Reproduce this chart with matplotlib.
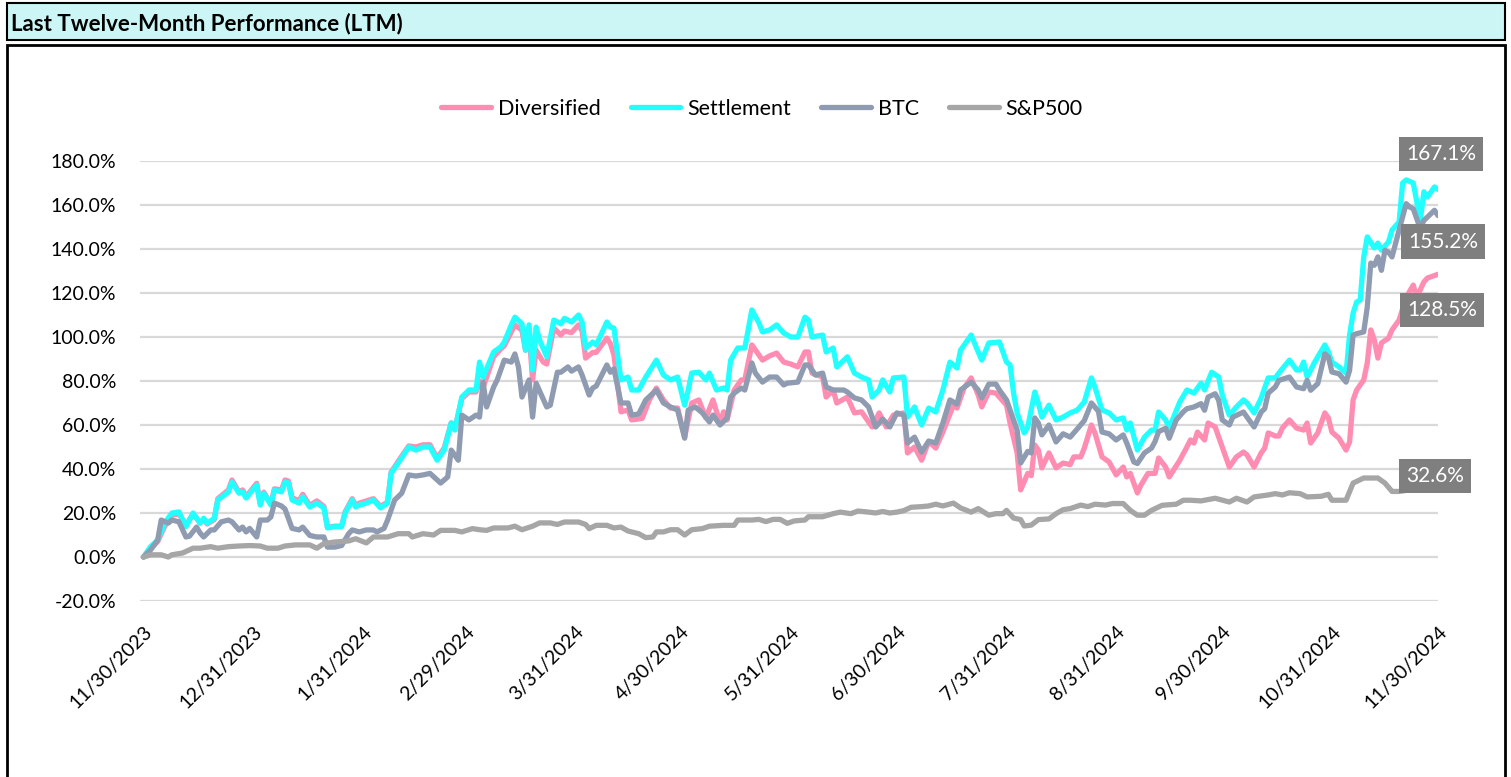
import matplotlib
matplotlib.use("Agg")
import matplotlib.pyplot as plt
import matplotlib.dates as mdates
from matplotlib.patches import Rectangle
import pandas as pd

plt.rcParams['font.family'] = ['Lato', 'DejaVu Sans']

# ---------------- data (day offset from start date, cumulative return %) ----------------
start_date = "2023-11-30"

diversified = [(0,0),(2,4),(4,7),(6,14),(8,19),(10,19.5),(12,14.5),(14,19.5),(16,15.5),(17,17),(18,15),(20,17),
    (21,26.5),(24,30.5),(25,35),(27,29.5),(28,30.5),(29,27.5),(32,33.5),(33,24.5),(34,29.5),(36,24),(37,31),(39,30.5),
    (40,35),(41,34.5),(42,27),(44,25.5),(45,28.5),(47,23.5),(49,25.5),(51,23),(52,13.5),(54,14),(56,14),(57,20.5),
    (59,26.5),(60,23.5),(61,24.5),(63,25.5),(65,26.5),(67,23),(69,25),(70,38.5),(72,43.5),(75,50.5),(77,50),(79,51),
    (81,51),(83,45),(85,49.5),(87,61),(88,58),(90,72),(92,75),(94,75),(95,80),(96,77),(99,91),(101,94.5),(102,96),
    (104,102.3),(105,105.5),(107,103),(108,94),(109,102),(110,80.5),(111,94),(113,88.6),(114,87.7),(116,104),
    (118,100.9),(119,102.7),(121,102),(123,105.5),(124,102.7),(125,90.4),(127,93),(128,93),(131,99.5),(132,97),
    (133,91.8),(135,66),(137,66.8),(138,62.3),(141,63),(143,71.4),(145,76.8),(147,71.4),(149,67.7),(151,67.7),
    (153,54.5),(155,70),(157,71.4),(159,63.2),(161,71.4),(163,60.9),(164,66),(165,62.3),(167,75.9),(169,80.5),
    (170,80.5),(172,96.4),(174,91.8),(175,89.5),(177,91.4),(179,92.7),(181,88.6),(183,87.7),(185,86.4),(187,93.2),
    (188,93.2),(189,83.6),(192,81.8),(193,72.7),(195,75.9),(196,70),(199,72.7),(201,65.5),(203,66),(205,61.4),
    (206,59.1),(208,65.5),(210,59.1),(212,64.5),(215,65.5),(216,47.3),(218,50),(220,44),(222,52.5),(224,49.5),
    (226,56.8),(229,69),(230,67.7),(232,76.8),(234,81.4),(236,73.6),(237,68.2),(239,75),(241,74.5),(244,69),
    (245,60.9),(247,47.3),(248,30.5),(250,38),(251,37),(252,50.9),(253,48.6),(254,40.5),(256,47.3),(258,40.5),
    (260,42.7),(262,42),(263,45.5),(265,45.5),(266,49.5),(268,60),(269,56.4),(271,45.5),(273,43.2),(275,37.3),
    (277,40.9),(278,36.4),(279,38),(281,29.1),(282,32.7),(284,38),(286,38),(287,45),(289,40.9),(290,36.4),(293,44),
    (295,50),(296,53.2),(297,51.8),(298,56.8),(300,53.2),(301,60.9),(303,59.1),(304,54.5),(306,45.5),(307,40.9),
    (309,45.5),(311,47.7),(312,46.4),(314,40.9),(316,47.3),(317,49.5),(318,56.4),(320,55),(321,55),(322,58.6),
    (324,62.3),(326,58.6),(328,57.7),(329,60.9),(330,51.8),(332,56.4),(334,65.5),(335,63.2),(336,56.8),(338,54),
    (340,48.6),(341,52.3),(342,71.4),(343,75.9),(345,80.5),(346,88.2),(347,103.2),(348,98.6),(349,90.4),(350,97.3),
    (352,99.5),(353,103.2),(355,107.7),(357,118),(359,123.6),(360,118),(362,125),(363,126.8),(366,128.5)]

settlement = [(0,0),(2,4.7),(4,7.7),(6,15.4),(8,20),(10,20.5),(12,13.8),(14,20),(16,15.4),(17,17.6),(18,15.4),
    (20,17.6),(21,25.9),(24,29.6),(25,34),(27,29),(28,29.6),(29,26.8),(32,32.7),(33,23.6),(34,29),(36,23.6),(37,30.4),
    (39,29.6),(40,34),(41,33.6),(42,25.9),(44,24.5),(45,27.3),(47,22.7),(49,24.5),(51,22.3),(52,13.2),(54,13.8),
    (56,13.8),(57,20),(59,25.9),(60,22.7),(61,23.6),(63,24.5),(65,25.9),(67,22.3),(69,24.5),(70,38),(72,42.7),
    (75,50),(77,48.6),(79,50),(81,50),(83,44),(85,48.6),(87,60.9),(88,57.7),(90,72.7),(92,75.9),(94,75.9),(95,88.6),
    (96,81.8),(99,93.2),(101,95.5),(102,97.7),(104,105.5),(105,109),(107,106),(108,94),(109,105.5),(110,85),
    (111,104.5),(112,98.6),(114,91),(116,107.7),(118,106),(119,108.5),(121,106.8),(123,110),(124,106.8),(125,95),
    (127,97.7),(128,96.4),(131,106.8),(132,104.5),(133,104),(135,80.5),(137,81.8),(138,75.9),(140,75.9),(142,81.8),
    (145,89.5),(147,82.7),(149,80.5),(151,81.8),(153,69),(154,75.9),(155,83.6),(157,84),(159,80.5),(160,83.6),
    (162,75.9),(164,76.8),(165,75.9),(166,89.5),(168,95),(170,95),(172,112.3),(174,106.4),(175,102.3),(177,103.2),
    (179,105.5),(181,101.8),(183,100),(185,100),(187,109),(188,107.7),(189,100),(192,100.9),(193,93.2),(195,95),
    (196,86.4),(199,91),(201,83.6),(203,81.8),(205,80.5),(206,72.7),(208,75.9),(209,80.5),(211,75),(212,81.4),
    (215,81.8),(216,63.6),(218,68.2),(220,60),(222,67.7),(224,65.9),(226,75.9),(228,88.6),(230,85.9),(231,94),
    (234,100.9),(236,93.2),(237,89.5),(239,97.3),(242,97.7),(244,88.6),(245,87.3),(246,74.5),(247,65.5),(249,56.4),
    (250,59.1),(252,75),(253,70),(254,63.6),(256,69),(258,62.3),(260,63.6),(262,65.5),(264,66.8),(266,70.5),
    (268,81.4),(269,77.3),(271,66.8),(273,65.5),(275,62.3),(277,63.2),(278,57.7),(279,60.9),(281,48.6),(283,54.5),
    (285,57.7),(286,57.7),(287,65.9),(289,62.3),(290,58.6),(293,70.5),(295,75.9),(297,74.5),(299,79),(300,75.9),
    (302,84),(304,81.8),(305,73.6),(307,64.5),(309,68.2),(311,71.4),(312,70),(314,65.5),(316,72.3),(318,81.4),
    (320,81.4),(321,83.6),(324,89.5),(326,85),(327,85),(328,88.6),(329,81.8),(331,88.2),(334,96.4),(335,93.2),
    (336,88.6),(338,86.4),(340,83.6),(341,100.9),(342,110.9),(343,115.9),(344,116.8),(345,136.4),(346,145.5),
    (348,140.5),(349,142.7),(350,139.5),(352,143.2),(353,148.6),(355,152.3),(356,170),(357,171.4),(359,170),
    (361,153),(362,166),(363,163.6),(365,168.2),(366,167.1)]

btc = [(0,0),(2,3.2),(4,7.7),(5,16.8),(7,15.4),(8,16.8),(10,16),(12,9.1),(13,9.5),(15,13.6),(16,10.9),(17,9.1),
    (19,12.3),(20,12.3),(22,16),(24,16.8),(25,16),(27,12.3),(28,13.6),(29,11.4),(30,13),(32,9.1),(33,16.8),(35,16.8),
    (36,18.2),(37,24.5),(39,23.2),(40,21.8),(42,13),(44,12.3),(45,13.6),(47,9.8),(49,9.1),(51,9.1),(52,4.5),(54,4.5),
    (56,5.2),(58,10.6),(59,12.3),(61,11.4),(63,12.3),(65,12.3),(66,11.4),(68,13),(69,16.8),(71,25.9),(73,29),
    (75,37.3),(77,36.8),(79,37.3),(81,38),(84,33.6),(86,36.4),(87,48.6),(89,44),(90,64.5),(92,62.3),(94,64.5),
    (95,63.6),(96,79.5),(97,68.2),(99,77.3),(100,80.5),(102,89.5),(104,88.6),(105,92.3),(106,86.4),(107,72.7),
    (109,80.5),(110,63.6),(111,79),(114,68.2),(115,69),(117,84),(118,84),(120,86.4),(121,84.5),(123,86.4),(124,82.7),
    (126,73.6),(127,76.8),(128,77.7),(131,87.3),(132,84),(133,85.5),(135,70),(137,70),(138,64.5),(140,65),(142,71.4),
    (145,75.9),(147,70),(149,68.2),(151,66.8),(153,54),(154,66.8),(156,68.2),(158,65.5),(160,61.4),(161,64.5),
    (163,60),(165,63.2),(166,72.7),(167,74.5),(169,76.8),(170,75.9),(172,88.2),(173,83.6),(175,79.5),(177,81.8),
    (179,81.8),(181,78.2),(182,79),(185,79.5),(187,87.3),(188,87.3),(190,82.7),(192,83.6),(193,77.3),(195,75.9),
    (198,75.9),(199,75),(201,72.3),(203,71.4),(205,68.2),(207,59.1),(209,62.7),(211,59.1),(213,65.5),(215,64.5),
    (216,51.8),(218,54.5),(220,47.7),(222,52.7),(224,51.8),(226,60.9),(228,71.4),(230,69.5),(231,75.9),(234,79.5),
    (236,75.9),(237,72.3),(239,78.6),(241,78.6),(242,75.9),(244,71.4),(246,62.3),(247,57.7),(248,42.7),(250,48),
    (251,47.3),(252,63.2),(253,60.9),(254,55.5),(256,60),(258,52.3),(260,56),(262,54.5),(264,58.2),(266,62),
    (268,70),(270,66.2),(271,56.8),(273,56),(275,53.2),(277,55.5),(278,51.8),(280,43.2),(281,42.5),(283,47.3),
    (285,49.5),(286,52.5),(287,57),(289,58.5),(290,54),(292,62.3),(294,66),(295,67.4),(297,68.2),(299,69.7),
    (300,66.7),(301,72.7),(303,74.2),(304,71.2),(305,62.3),(307,60),(308,63.6),(311,65.9),(312,63.6),(314,59.1),
    (316,65.9),(317,67.4),(318,74.5),(320,77.3),(321,80.3),(324,81.8),(326,77.3),(328,76.5),(329,80.3),(330,75.8),
    (332,78.8),(334,92.4),(335,90.9),(336,84.1),(338,83.3),(340,79.5),(341,84.8),(342,100.9),(343,101.5),
    (345,102.3),(346,113.6),(347,133.6),(348,132.6),(349,136.4),(350,130.3),(351,139.4),(352,138.6),(353,136.4),
    (355,148.6),(357,160.6),(358,159.1),(359,158.3),(361,149.2),(362,153),(363,154.5),(365,157.6),(366,155.2)]

sp500 = [(0,0),(2,1),(5,1),(7,0),(8,1),(11,1.8),(14,4),(16,4),(19,4.7),(21,4),(24,4.7),(27,5),(30,5.2),(33,5),
    (35,4),(38,4),(40,5),(43,5.5),(47,5.5),(49,4),(51,6.1),(54,6.8),(58,7.3),(60,8.3),(63,6.4),(65,9.1),(69,9.1),
    (72,10.6),(75,10.6),(76,9.1),(79,10.6),(82,10),(84,12.1),(88,12.1),(90,11.4),(93,12.9),(95,12.4),(97,12.1),
    (99,13.2),(103,13.2),(105,14),(107,12.4),(110,14),(112,15.5),(115,15.5),(117,14.8),(119,15.9),(123,15.9),
    (125,14.8),(126,12.9),(128,14.4),(131,14.4),(133,13.2),(135,13.6),(137,11.8),(140,10.6),(142,8.8),(144,9.1),
    (145,11.4),(147,11.4),(149,12.4),(151,12.4),(153,10),(155,12.4),(158,12.9),(160,14),(164,14.4),(167,14.4),
    (168,16.8),(172,16.8),(174,17.1),(176,16.1),(178,17.1),(180,17.1),(182,15.3),(184,16.4),(187,16.8),(188,18.3),
    (192,18.3),(195,19.7),(197,20.4),(200,19.7),(202,20.9),(205,20.4),(207,20),(209,20.7),(211,20),(213,20.4),
    (215,21.1),(217,22.6),(220,22.9),(222,23.2),(224,24),(226,23.2),(229,24.5),(231,22.3),(234,20.4),(236,22),
    (239,19),(241,19.7),(243,19.7),(244,21.2),(246,17.7),(248,17),(249,14.1),(251,14.5),(253,17),(256,17.3),
    (258,19.7),(260,21.5),(262,22),(265,23.6),(267,22.9),(269,24),(272,23.6),(274,24.3),(277,24.3),(279,21.2),
    (281,19),(283,19),(285,21.2),(288,23.5),(292,24),(294,25.8),(296,25.8),(299,25.5),(303,26.7),(307,25),
    (309,26.7),(312,25),(314,27.3),(318,28.2),(320,28.8),(322,28.2),(324,29.2),(327,28.8),(329,27.3),(333,27.6),
    (335,28.5),(336,25.8),(340,25.8),(342,33.6),(345,35.9),(349,35.9),(351,33.6),(353,29.8),(355,29.8),(360,31),
    (366,32.6)]

series_names = ["Diversified", "Settlement", "BTC", "S&P500"]
series_colors = ["#FF8DB2", "#22FFFF", "#8F9BB1", "#A6A6A6"]
label_offsets_px = [(4, -36), (3, 35), (5, -26), (-3, 9)]   # end-label box offsets (pixels)

x_tick_labels = ["11/30/2023", "12/31/2023", "1/31/2024", "2/29/2024", "3/31/2024", "4/30/2024",
                 "5/31/2024", "6/30/2024", "7/31/2024", "8/31/2024", "9/30/2024", "10/31/2024", "11/30/2024"]
y_ticks = [-20, 0, 20, 40, 60, 80, 100, 120, 140, 160, 180]

# ---------------- figure ----------------
W, H = 1511, 777
fig = plt.figure(figsize=(W / 100, H / 100), dpi=100)

def fx(px): return px / W
def fy(py): return 1 - py / H

# title bar
fig.add_artist(Rectangle((fx(7), fy(40)), fx(1505) - fx(7), (40 - 3) / H, transform=fig.transFigure,
                         facecolor="#CCF6F6", edgecolor="black", linewidth=1.5, zorder=0))
fig.text(fx(11), fy(24), "Last Twelve-Month Performance (LTM)", fontsize=16, fontweight="bold",
         ha="left", va="center", color="black")
# chart frame
fig.add_artist(Rectangle((fx(7), fy(800)), fx(1505) - fx(7), (800 - 45) / H, transform=fig.transFigure,
                         facecolor="white", edgecolor="black", linewidth=2, zorder=0))

ax = fig.add_axes([fx(140), fy(601), fx(1438) - fx(140), (601 - 161) / H])
ax.set_facecolor("none")

start = pd.Timestamp(start_date)
all_series = [diversified, settlement, btc, sp500]
handles = []
for i, (name, data, color) in enumerate(zip(series_names, all_series, series_colors)):
    d = [start + pd.Timedelta(days=p[0]) for p in data]
    v = [p[1] for p in data]
    ln, = ax.plot(d, v, color=color, linewidth=3.8, label=name, zorder=2 + i,
                  solid_joinstyle="round", solid_capstyle="round")
    handles.append(ln)
    dx, dy = label_offsets_px[i]
    ax.annotate(f"{v[-1]:.1f}%", xy=(d[-1], v[-1]), xytext=(dx * 0.72, dy * 0.72),
                textcoords="offset points", ha="center", va="center", fontsize=15, color="white",
                bbox=dict(boxstyle="square,pad=0.34", facecolor="#7F7F7F", edgecolor="none"),
                zorder=10, annotation_clip=False)

xt = pd.to_datetime(x_tick_labels, format="%m/%d/%Y")
ax.set_xlim(start - pd.Timedelta(days=1), xt[-1])
ax.set_xticks(xt)
ax.set_xticklabels(x_tick_labels, rotation=45, ha="right", rotation_mode="anchor", fontsize=14)
ax.set_ylim(-20, 180)
ax.set_yticks(y_ticks)
ax.set_yticklabels([f"{t:.1f}%" for t in y_ticks], fontsize=14)
ax.tick_params(axis="both", length=0)
ax.tick_params(axis="y", pad=17)
ax.tick_params(axis="x", pad=16)
ax.grid(axis="y", color="#D9D9D9", linewidth=1.6)
ax.set_axisbelow(True)
for s in ax.spines.values():
    s.set_visible(False)

fig.legend(handles=handles, labels=series_names, loc="center", bbox_to_anchor=(fx(762), fy(109)),
           ncol=4, frameon=False, fontsize=15.5, handlelength=2.3, handletextpad=0.33, columnspacing=1.4)

fig.savefig("out.png", dpi=100)
